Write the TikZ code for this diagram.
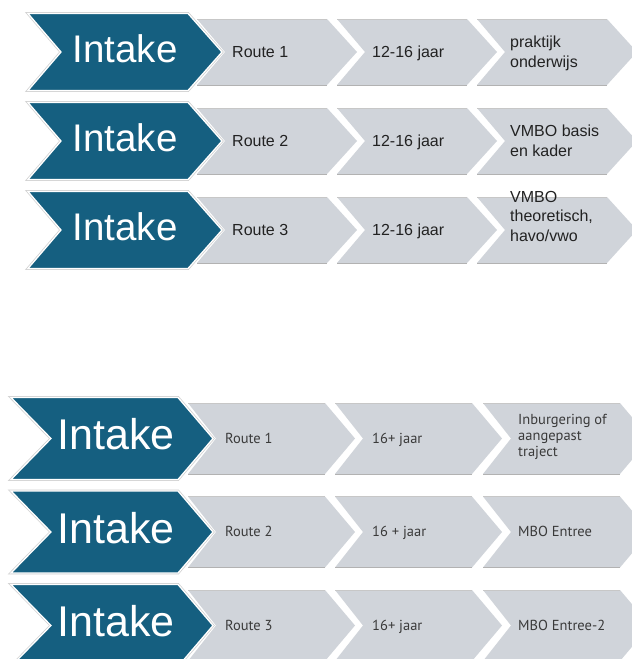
\documentclass[tikz,border=0pt]{standalone}
\usepackage{fontspec}
\setmainfont{Liberation Sans}
\newfontfamily\lowfont{PT Sans}
\definecolor{bluechev}{HTML}{155F80}
\definecolor{graychev}{HTML}{D0D4DA}
\definecolor{txttop}{HTML}{222222}
\definecolor{txtlow}{HTML}{3A3A3A}
% #1 left x, #2 centre y, #3 straight width, #4 half height, #5 notch depth, #6 tip depth
\newcommand\graychevron[6]{%
  \fill[graychev] (#1,#2-#4) -- ++(#3,0) -- ++(#6,#4) -- ++(-#6,#4) -- ++(-#3,0) -- ++(#5,-#4) -- cycle;
  \draw[black!22, line width=0.7] (#1,#2-#4) -- ++(#3,0);
  \draw[black!30, line width=0.9] (#1,#2+#4) -- ++(#3,0);
}
\newcommand\bluechevron[6]{%
  \draw[black!18, line width=2.8, line join=miter] (#1,#2-#4) -- ++(#3,0) -- ++(#6,#4) -- ++(-#6,#4) -- ++(-#3,0) -- ++(#5,-#4) -- cycle;
  \filldraw[fill=bluechev, draw=white, line width=1.3, line join=miter] (#1,#2-#4) -- ++(#3,0) -- ++(#6,#4) -- ++(-#6,#4) -- ++(-#3,0) -- ++(#5,-#4) -- cycle;
}
\tikzset{
  intaketop/.style={anchor=base, inner sep=0, text=white, font=\fontsize{38.5}{42}\selectfont},
  intakelow/.style={anchor=base, inner sep=0, text=white, font=\fontsize{43}{46}\selectfont},
  toptext/.style={anchor=base west, inner sep=0, text=txttop, font=\fontsize{16}{19.5}\selectfont},
  lowtext/.style={anchor=base west, inner sep=0, text=txtlow, font=\lowfont\fontsize{14.5}{16}\selectfont},
}
\begin{document}
\begin{tikzpicture}[x=1pt,y=-1pt]
\useasboundingbox (0,0) rectangle (632,659);
\fill[white] (0,0) rectangle (632,659);

% ---------- top section ----------
\foreach \cy in {52,141,230}{
  \foreach \L in {477,337,197}{\graychevron{\L}{\cy}{130}{33}{28}{30}}
  \bluechevron{28}{\cy}{160}{38.5}{33}{34}
}
\node[intaketop] (ta) at (125,62) {Intake};
\node[intaketop] (tb) at (125,151) {Intake};
\node[intaketop] (tc) at (125,240) {Intake};

\node[toptext] (ta1) at (232,57) {Route 1};
\node[toptext] (ta2) at (372,57) {12-16 jaar};
\node[toptext] (ta3) at (510,47.5) {\begin{tabular}[t]{@{}l@{}}praktijk\\onderwijs\end{tabular}};

\node[toptext] (tb1) at (232,146) {Route 2};
\node[toptext] (tb2) at (372,146) {12-16 jaar};
\node[toptext] (tb3) at (510,136.5) {\begin{tabular}[t]{@{}l@{}}VMBO basis\\en kader\end{tabular}};

\node[toptext] (tc1) at (232,235) {Route 3};
\node[toptext] (tc2) at (372,235) {12-16 jaar};
\node[toptext] (tc3) at (510,202) {\begin{tabular}[t]{@{}l@{}}VMBO\\theoretisch,\\havo/vwo\end{tabular}};

% ---------- bottom section ----------
\foreach \cy in {438.5,532,625.5}{
  \foreach \L in {483,335,188}{\graychevron{\L}{\cy}{137}{35.5}{28}{30}}
  \bluechevron{11}{\cy}{167}{41}{40}{35}
}
\node[intakelow] (la) at (116,449.5) {Intake};
\node[intakelow] (lb) at (116,543) {Intake};
\node[intakelow] (lc) at (116,636.5) {Intake};

\node[lowtext] (la1) at (225,443) {Route 1};
\node[lowtext] (la2) at (372,443) {16+ jaar};
\node[lowtext] (la3) at (518,424) {\begin{tabular}[t]{@{}l@{}}Inburgering of\\aangepast\\traject\end{tabular}};

\node[lowtext] (lb1) at (225,536.5) {Route 2};
\node[lowtext] (lb2) at (372,536.5) {16 + jaar};
\node[lowtext] (lb3) at (518,536.5) {MBO Entree};

\node[lowtext] (lc1) at (225,630) {Route 3};
\node[lowtext] (lc2) at (372,630) {16+ jaar};
\node[lowtext] (lc3) at (518,630) {MBO Entree-2};
\end{tikzpicture}
\end{document}
